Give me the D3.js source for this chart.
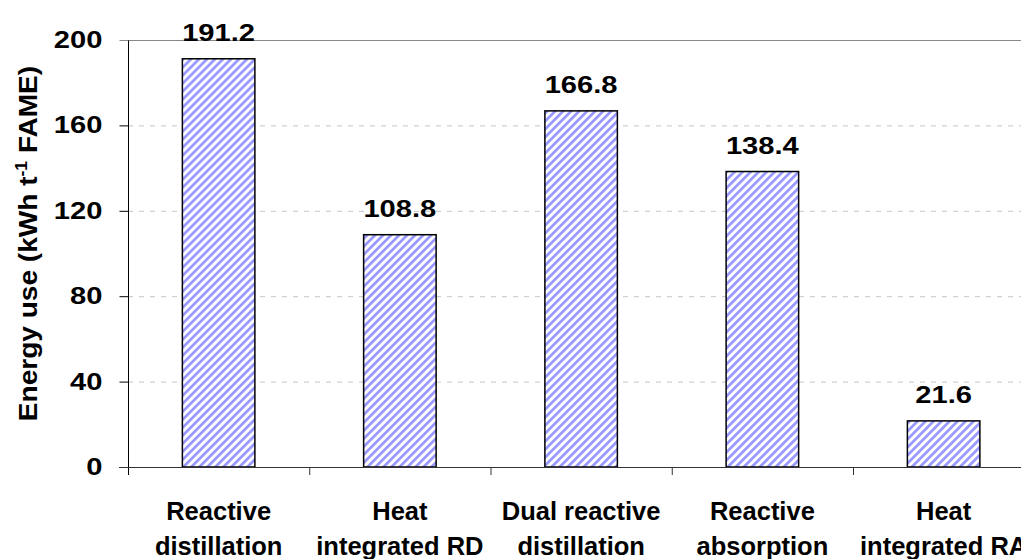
<!DOCTYPE html>
<html>
<head>
<meta charset="utf-8">
<script src="https://cdn.jsdelivr.net/npm/d3@7"></script>
<style>
  html, body { margin: 0; padding: 0; background: #fff; }
  svg { display: block; font-family: "Liberation Sans", Arial, sans-serif; font-weight: bold; }
</style>
</head>
<body>
<svg id="chart" width="1021" height="559"></svg>
<script>
// Energy use per tonne of FAME for each process configuration
const categories = [
  ["Reactive", "distillation"],
  ["Heat", "integrated RD"],
  ["Dual reactive", "distillation"],
  ["Reactive", "absorption"],
  ["Heat", "integrated RA"]
];
const energyUse = [191.2, 108.8, 166.8, 138.4, 21.6];
const yTicks = [0, 40, 80, 120, 160, 200];

const svg = d3.select("#chart");
const plotLeft = 128, plotTop = 40, plotBottom = 467;
const step = 181.25;
const plotRight = plotLeft + step * categories.length;
const numStretch = 1.24; // wide numeric lettering

const x = d3.scaleBand()
  .domain(d3.range(categories.length))
  .range([plotLeft, plotRight])
  .padding(0);
const y = d3.scaleLinear().domain([0, 200]).range([plotBottom, plotTop]);

// diagonal hatch fill
const defs = svg.append("defs");
const pat = defs.append("pattern")
  .attr("id", "hatch")
  .attr("patternUnits", "userSpaceOnUse")
  .attr("width", 5.66)
  .attr("height", 10)
  .attr("patternTransform", "rotate(45)");
pat.append("rect").attr("width", 5.66).attr("height", 10).attr("fill", "#fff");
pat.append("rect").attr("width", 2.8).attr("height", 10).attr("fill", "#9a9aff");

// gridlines
svg.append("g")
  .selectAll("line")
  .data(yTicks.filter(d => d > 0 && d < 200))
  .join("line")
  .attr("x1", plotLeft).attr("x2", 1021)
  .attr("y1", d => y(d) + 0.5).attr("y2", d => y(d) + 0.5)
  .attr("stroke", "#c4c4c4")
  .attr("stroke-dasharray", "5,6");

// top border line at the axis maximum
svg.append("line")
  .attr("x1", plotLeft).attr("x2", 1021)
  .attr("y1", y(200) + 0.5).attr("y2", y(200) + 0.5)
  .attr("stroke", "#888");

// bars
const barW = step * 0.4;
svg.append("g")
  .selectAll("rect")
  .data(energyUse)
  .join("rect")
  .attr("x", (d, i) => x(i) + (x.bandwidth() - barW) / 2)
  .attr("y", d => y(d))
  .attr("width", barW)
  .attr("height", d => y(0) - y(d))
  .attr("fill", "url(#hatch)")
  .attr("stroke", "#000")
  .attr("stroke-width", 1.5);

// value labels
svg.append("g")
  .selectAll("text")
  .data(energyUse)
  .join("text")
  .attr("transform", (d, i) =>
    `translate(${x(i) + x.bandwidth() / 2},${y(d) - 17.5}) scale(${numStretch},1)`)
  .attr("text-anchor", "middle")
  .attr("font-size", 23.5)
  .attr("fill", "#000")
  .text(d => d.toFixed(1));

// y axis
const yAxis = d3.axisLeft(y).tickValues(yTicks).tickSize(9).tickPadding(17);
const gy = svg.append("g").attr("transform", `translate(${plotLeft + 0.5},0)`).call(yAxis);
gy.select(".domain").attr("d", `M0,${plotTop}V${plotBottom + 8}`).attr("stroke", "#000");
gy.selectAll(".tick line").attr("stroke", d => d === 200 ? "#888" : "#000");
gy.selectAll(".tick text")
  .attr("x", 0)
  .attr("transform", `translate(-26,0) scale(${numStretch},1)`)
  .attr("font-size", 23.5).attr("font-family", "Liberation Sans, Arial, sans-serif")
  .attr("font-weight", "bold").attr("fill", "#000");

// x axis
svg.append("line")
  .attr("x1", plotLeft - 9).attr("x2", 1021)
  .attr("y1", plotBottom + 0.5).attr("y2", plotBottom + 0.5)
  .attr("stroke", "#333");
svg.append("g")
  .selectAll("line")
  .data(d3.range(1, categories.length))
  .join("line")
  .attr("x1", i => x(i) + 0.5).attr("x2", i => x(i) + 0.5)
  .attr("y1", plotBottom).attr("y2", plotBottom + 8)
  .attr("stroke", "#333");

// category labels
const cat = svg.append("g")
  .selectAll("text")
  .data(categories)
  .join("text")
  .attr("text-anchor", "middle")
  .attr("font-size", 25.5)
  .attr("fill", "#000");
cat.append("tspan")
  .attr("x", (d, i) => x(i) + x.bandwidth() / 2)
  .attr("y", 520)
  .text(d => d[0]);
cat.append("tspan")
  .attr("x", (d, i) => x(i) + x.bandwidth() / 2)
  .attr("y", 555)
  .text(d => d[1]);

// y axis title
const title = svg.append("text")
  .attr("transform", "translate(37,243.5) rotate(-90) scale(1.1,1)")
  .attr("text-anchor", "middle")
  .attr("font-size", 25.5)
  .attr("fill", "#000");
title.append("tspan").text("Energy use (kWh t");
title.append("tspan").attr("dy", -10).attr("font-size", 16).text("-1");
title.append("tspan").attr("dy", 10).text(" FAME)");
</script>
</body>
</html>
